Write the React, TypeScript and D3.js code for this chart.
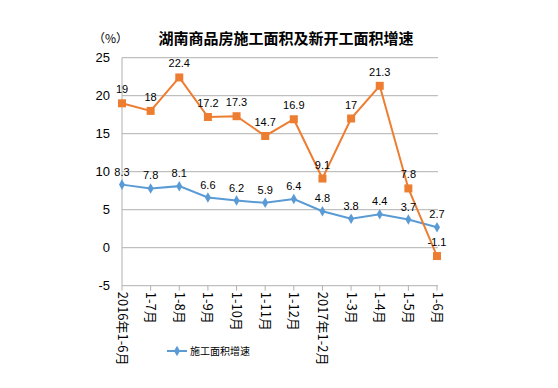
import React, { FC, useMemo } from 'react'
import * as d3 from 'd3'

const categories = [
	'2016年1-6月',
	'1-7月',
	'1-8月',
	'1-9月',
	'1-10月',
	'1-11月',
	'1-12月',
	'2017年1-2月',
	'1-3月',
	'1-4月',
	'1-5月',
	'1-6月'
]
const newStart = [19, 18, 22.4, 17.2, 17.3, 14.7, 16.9, 9.1, 17, 21.3, 7.8, -1.1]
const underway = [8.3, 7.8, 8.1, 6.6, 6.2, 5.9, 6.4, 4.8, 3.8, 4.4, 3.7, 2.7]
const yTicks = [-5, 0, 5, 10, 15, 20, 25]

const W = 558
const H = 388
const left = 122
const right = 437
const top = 57.7
const bottom = 285.7

const ORANGE = '#ED7D31'
const BLUE = '#5B9BD5'
const NUM_FONT = '"Liberation Sans", Arial, sans-serif'
const CJK_FONT = '"Noto Sans CJK SC", sans-serif'

const App: FC = () => {
	const x = useMemo(
		() => d3.scalePoint<string>().domain(categories).range([left, right]),
		[]
	)
	const y = useMemo(() => d3.scaleLinear().domain([-5, 25]).range([bottom, top]), [])

	const line = d3
		.line<number>()
		.x((_, i) => x(categories[i]) as number)
		.y((d) => y(d))

	const diamond = d3.symbol().type(d3.symbolDiamond).size(32)()

	return (
		<svg
			width={W}
			height={H}
			style={{ position: 'absolute', left: 0, top: 0, background: '#fff' }}
		>
			{/* 网格线 */}
			<g>
				{yTicks.map((t) => (
					<line
						key={t}
						x1={left}
						x2={right + 1}
						y1={y(t)}
						y2={y(t)}
						stroke="#b0b0b0"
						strokeWidth={1}
					/>
				))}
				<line x1={left} x2={left} y1={top} y2={bottom} stroke="#b0b0b0" />
				{categories.map((c) => (
					<line
						key={c}
						x1={x(c)}
						x2={x(c)}
						y1={bottom}
						y2={bottom + 5}
						stroke="#b0b0b0"
					/>
				))}
			</g>

			{/* y 轴标签 */}
			<g fontFamily={NUM_FONT} fontSize={13} fill="#000" textAnchor="end">
				{yTicks.map((t) => (
					<text key={t} x={left - 12} y={y(t) + 4.5}>
						{t}
					</text>
				))}
			</g>

			{/* x 轴标签 */}
			<g fontFamily={CJK_FONT} fontSize={13} fill="#000">
				{categories.map((c) => (
					<text
						key={c}
						transform={`translate(${(x(c) as number) - 4.5}, ${bottom + 6}) rotate(90)`}
					>
						{c}
					</text>
				))}
			</g>

			{/* 系列 */}
			<path d={line(underway) || ''} fill="none" stroke={BLUE} strokeWidth={2} />
			<path d={line(newStart) || ''} fill="none" stroke={ORANGE} strokeWidth={2} />
			{underway.map((d, i) => (
				<path
					key={i}
					d={diamond || ''}
					transform={`translate(${x(categories[i])}, ${y(d)})`}
					fill={BLUE}
				/>
			))}
			{newStart.map((d, i) => (
				<rect
					key={i}
					x={(x(categories[i]) as number) - 4}
					y={y(d) - 4}
					width={8}
					height={8}
					fill={ORANGE}
				/>
			))}

			{/* 数据标签 */}
			<g fontFamily={NUM_FONT} fontSize={11} fill="#000" textAnchor="middle">
				{underway.map((d, i) => (
					<text key={i} x={x(categories[i])} y={y(d) - 9}>
						{d}
					</text>
				))}
				{newStart.map((d, i) => (
					<text key={i} x={x(categories[i])} y={y(d) - 10}>
						{d}
					</text>
				))}
			</g>

			{/* 标题 */}
			<text
				x={286}
				y={44}
				textAnchor="middle"
				fontFamily={CJK_FONT}
				fontWeight="bold"
				fontSize={15}
				fill="#000"
			>
				湖南商品房施工面积及新开工面积增速
			</text>
			<text x={93} y={43} fontFamily={CJK_FONT} fontSize={12} fill="#000">
				（%）
			</text>

			{/* 图例 */}
			<g>
				<line x1={167} x2={187} y1={351} y2={351} stroke={BLUE} strokeWidth={2} />
				<path d={diamond || ''} transform="translate(177, 351)" fill={BLUE} />
				<text x={190} y={355} fontFamily={CJK_FONT} fontSize={10} fill="#000">
					施工面积增速
				</text>
			</g>
		</svg>
	)
}

export default App
